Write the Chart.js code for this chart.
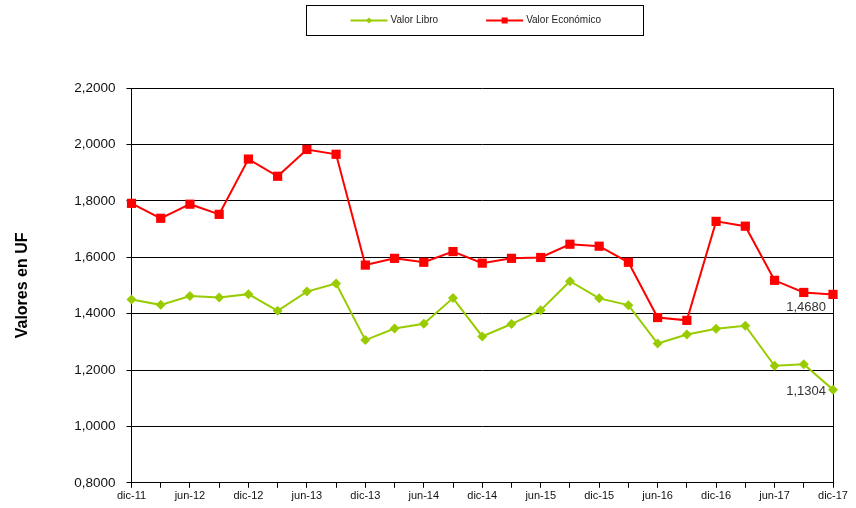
<!DOCTYPE html>
<html>
<head>
<meta charset="utf-8">
<script src="https://cdn.jsdelivr.net/npm/chart.js@4/dist/chart.umd.min.js"></script>
<style>
    html, body { margin: 0; padding: 0; background: #fff; }
    canvas { display: block; }
</style>
</head>
<body>
<canvas id="chart" width="856" height="508"></canvas>
<script>
const periods = [
    "dic-11", "mar-12", "jun-12", "sep-12", "dic-12", "mar-13", "jun-13", "sep-13",
    "dic-13", "mar-14", "jun-14", "sep-14", "dic-14", "mar-15", "jun-15", "sep-15",
    "dic-15", "mar-16", "jun-16", "sep-16", "dic-16", "mar-17", "jun-17", "sep-17", "dic-17"
];
const valorLibro = [
    1.450, 1.431, 1.462, 1.457, 1.469, 1.410, 1.478, 1.507,
    1.306, 1.347, 1.364, 1.455, 1.319, 1.363, 1.412, 1.515,
    1.454, 1.430, 1.294, 1.326, 1.346, 1.357, 1.215, 1.220, 1.1304
];
const valorEconomico = [
    1.791, 1.738, 1.788, 1.752, 1.948, 1.887, 1.982, 1.965,
    1.572, 1.596, 1.582, 1.620, 1.579, 1.596, 1.599, 1.646,
    1.639, 1.582, 1.386, 1.376, 1.727, 1.710, 1.518, 1.475, 1.4680
];
const yMin = 0.8, yMax = 2.2, yStep = 0.2;

const GREEN = "#99CC00", RED = "#FF0000";
const FONT = "'Liberation Sans', Arial, sans-serif";

function formatUF(value) {
    return value.toFixed(4).replace(".", ",");
}

// boxed legend above the plot: line + marker + label for each series
const boxedLegend = {
    id: "boxedLegend",
    afterDraw(chart) {
        const {ctx, chartArea} = chart;
        const datasets = chart.data.datasets;
        const lineW = 37, textGap = 3, itemGap = 48;
        const frameW = 337, frameTop = 5, frameH = 30;
        ctx.save();
        ctx.font = "10px " + FONT;
        const widths = datasets.map(ds => ctx.measureText(ds.label).width);
        const total = widths.reduce((sum, w) => sum + lineW + textGap + w, 0) + itemGap * (datasets.length - 1);
        const centerX = (chartArea.left + chartArea.right) / 2 - 7.5;

        ctx.strokeStyle = "#000";
        ctx.lineWidth = 1;
        ctx.strokeRect(Math.round(centerX - frameW / 2) + 0.5, frameTop + 0.5, frameW, frameH);

        let x = centerX + 1 - total / 2;
        const y = frameTop + frameH / 2 + 0.5;
        datasets.forEach((ds, i) => {
            ctx.strokeStyle = ds.borderColor;
            ctx.fillStyle = ds.borderColor;
            ctx.lineWidth = 2;
            ctx.beginPath();
            ctx.moveTo(x, y);
            ctx.lineTo(x + lineW, y);
            ctx.stroke();
            const cx = x + lineW / 2;
            ctx.beginPath();
            if (ds.pointStyle === "rect") {
                ctx.rect(cx - 3, y - 3, 6, 6);
            } else {
                ctx.moveTo(cx, y - 3);
                ctx.lineTo(cx + 3, y);
                ctx.lineTo(cx, y + 3);
                ctx.lineTo(cx - 3, y);
                ctx.closePath();
            }
            ctx.fill();
            ctx.fillStyle = "#222";
            ctx.textAlign = "left";
            ctx.textBaseline = "middle";
            ctx.fillText(ds.label, x + lineW + textGap, y);
            x += lineW + textGap + widths[i] + itemGap;
        });
        ctx.restore();
    }
};

const rightBorder = {
    id: "rightBorder",
    beforeDatasetsDraw(chart) {
        const {ctx, chartArea} = chart;
        ctx.save();
        ctx.strokeStyle = "#000";
        ctx.lineWidth = 1;
        ctx.beginPath();
        ctx.moveTo(Math.round(chartArea.right) + 0.5, chartArea.top);
        ctx.lineTo(Math.round(chartArea.right) + 0.5, chartArea.bottom);
        ctx.stroke();
        ctx.restore();
    }
};

// value of the last point of each series
const endLabels = {
    id: "endLabels",
    afterDatasetsDraw(chart) {
        const {ctx} = chart;
        const offsets = [2, 13];
        chart.data.datasets.forEach((dataset, i) => {
            const meta = chart.getDatasetMeta(i);
            const point = meta.data[meta.data.length - 1];
            const value = dataset.data[dataset.data.length - 1];
            ctx.save();
            ctx.font = "13px " + FONT;
            ctx.fillStyle = "#333";
            ctx.textAlign = "right";
            ctx.textBaseline = "middle";
            ctx.fillText(formatUF(value), point.x - 7, point.y + offsets[i]);
            ctx.restore();
        });
    }
};

Chart.defaults.font.family = FONT;
Chart.defaults.color = "#222";

new Chart(document.getElementById("chart"), {
    type: "line",
    data: {
        labels: periods,
        datasets: [
            {
                label: "Valor Libro",
                data: valorLibro,
                borderColor: GREEN,
                backgroundColor: GREEN,
                borderWidth: 2,
                pointStyle: "rectRot",
                pointRadius: 5,
                pointBorderWidth: 0,
                tension: 0,
                clip: false,
            },
            {
                label: "Valor Económico",
                data: valorEconomico,
                borderColor: RED,
                backgroundColor: RED,
                borderWidth: 2,
                pointStyle: "rect",
                pointRadius: 6.5,
                pointBorderWidth: 0,
                tension: 0,
                clip: false,
            }
        ]
    },
    options: {
        responsive: false,
        animation: false,
        layout: {
            padding: {top: 0, left: 9, right: 23, bottom: 3}
        },
        scales: {
            x: {
                offset: false,
                grid: {
                    drawOnChartArea: false,
                    drawTicks: true,
                    tickLength: 5,
                    color: "#000",
                },
                border: {color: "#000"},
                ticks: {
                    autoSkip: false,
                    maxRotation: 0,
                    padding: 2,
                    color: "#111",
                    font: {size: 11},
                    callback: function (value, index) {
                        return index % 2 === 0 ? this.getLabelForValue(value) : "";
                    }
                }
            },
            y: {
                min: yMin,
                max: yMax,
                grid: {
                    color: "#000",
                    tickLength: 5,
                },
                border: {color: "#000"},
                ticks: {
                    stepSize: yStep,
                    padding: 11,
                    color: "#111",
                    font: {size: 13.5},
                    callback: value => formatUF(value)
                },
                title: {
                    display: true,
                    text: "Valores en UF",
                    color: "#000",
                    font: {size: 16, weight: "bold"},
                    padding: {top: 4, bottom: 31}
                }
            }
        },
        plugins: {
            legend: {display: false},
            // empty title keeps the space for the boxed legend
            title: {
                display: true,
                text: "",
                font: {size: 10},
                padding: {top: 38, bottom: 38}
            },
            tooltip: {enabled: false}
        }
    },
    plugins: [boxedLegend, rightBorder, endLabels]
});
</script>
</body>
</html>
